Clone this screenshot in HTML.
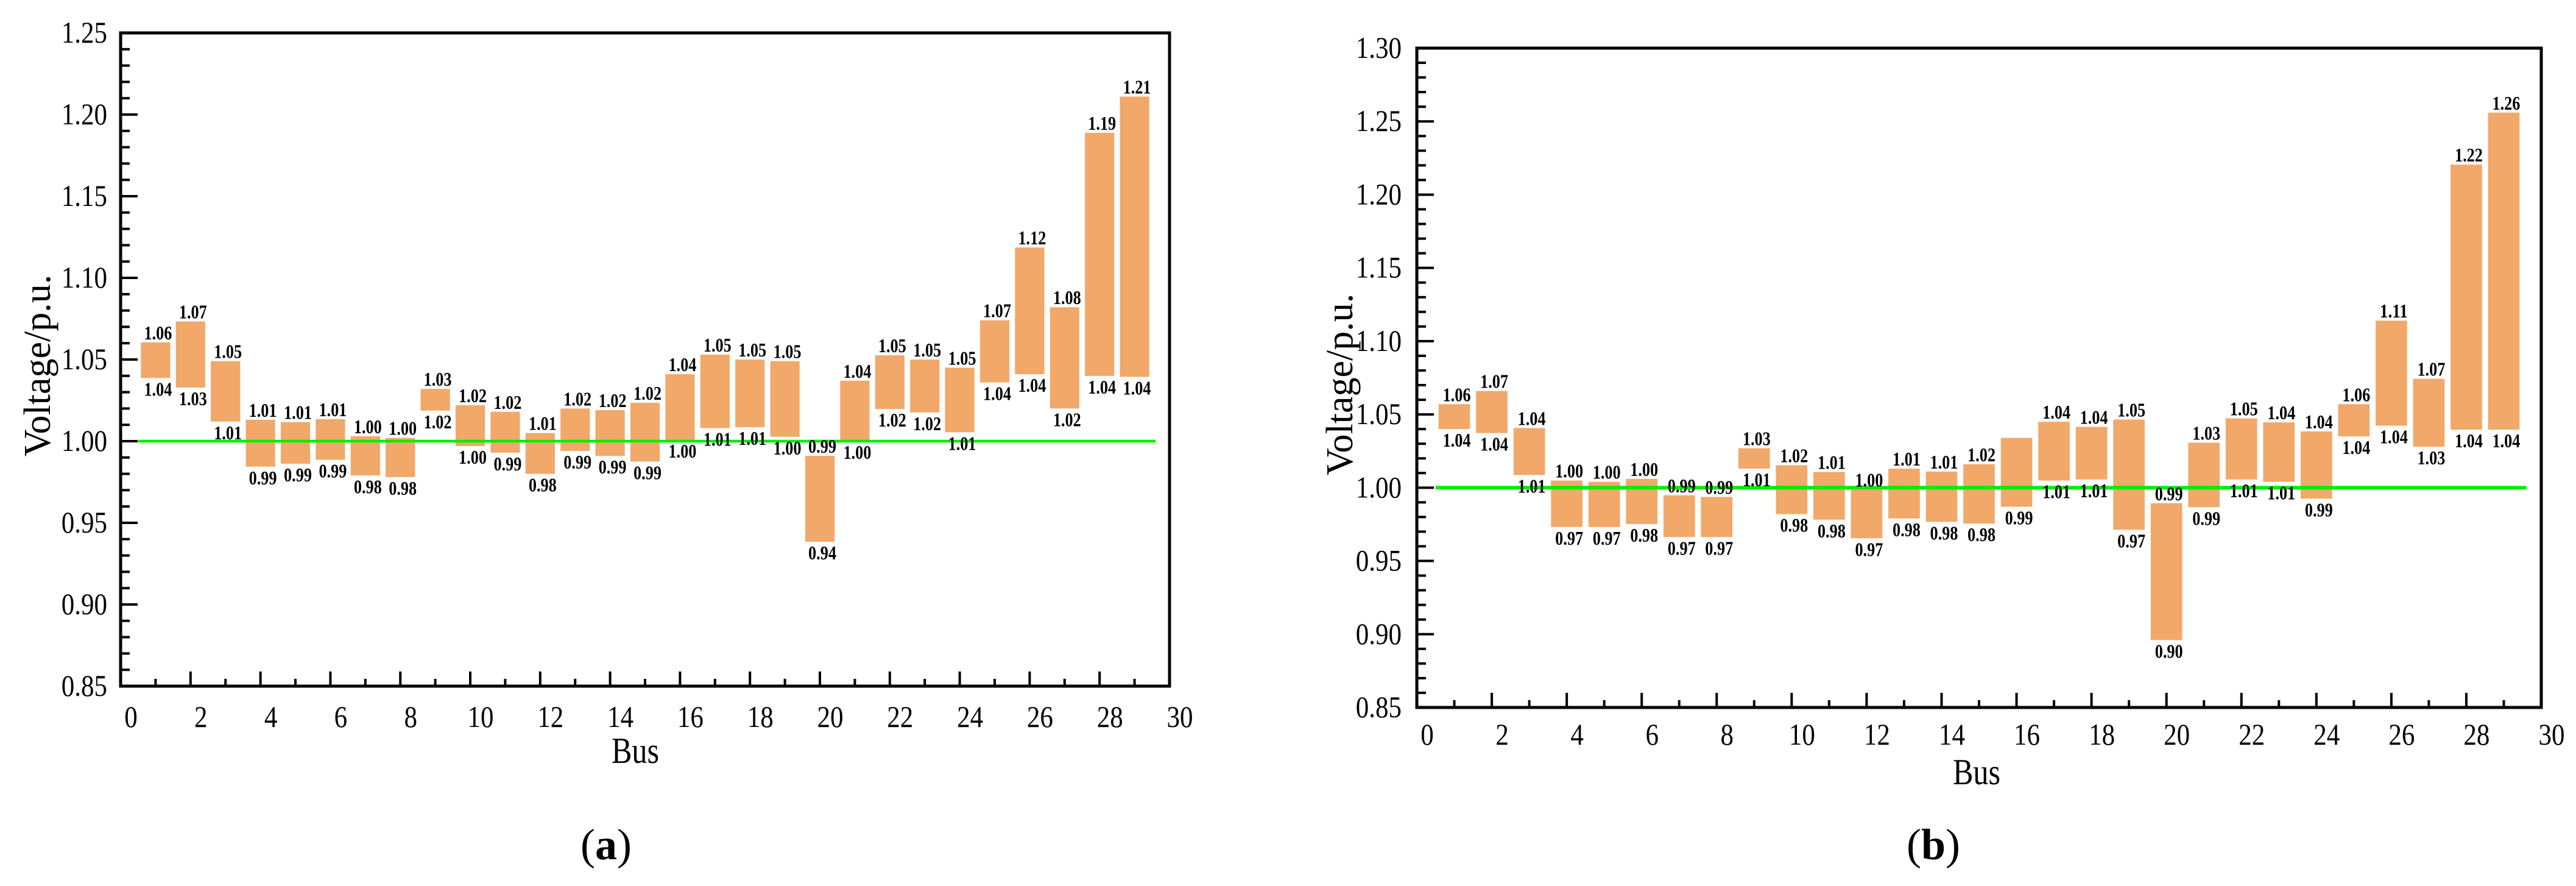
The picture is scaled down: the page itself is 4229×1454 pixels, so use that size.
<!DOCTYPE html>
<html>
<head>
<meta charset="utf-8">
<style>
html,body{margin:0;padding:0;background:#fff;}
svg{display:block;}
text{font-family:"Liberation Serif",serif;fill:#000;}
</style>
</head>
<body>
<svg id="fig" width="4229" height="1454" viewBox="0 0 4229 1454" xmlns="http://www.w3.org/2000/svg"></svg>
<script>
// ---- data: chart (a) ----
const busesA = [1,2,3,4,5,6,7,8,9,10,11,12,13,14,15,16,17,18,19,20,21,22,23,24,25,26,27,28,29];
const upperA = [1.0605,1.0733,1.049,1.0131,1.0117,1.0135,1.003,1.002,1.032,1.022,1.018,1.005,1.020,1.019,1.0235,1.041,1.053,1.050,1.049,0.991,1.037,1.0526,1.050,1.045,1.074,1.1186,1.082,1.1888,1.211];
const lowerA = [1.0387,1.0328,1.012,0.9844,0.9862,0.9886,0.979,0.978,1.0187,0.997,0.993,0.980,0.994,0.991,0.9875,1.0007,1.008,1.0086,1.0027,0.9384,1.000,1.0197,1.0176,1.0055,1.036,1.041,1.020,1.040,1.0394];
const upperLabelsA = ["1.06","1.07","1.05","1.01","1.01","1.01","1.00","1.00","1.03","1.02","1.02","1.01","1.02","1.02","1.02","1.04","1.05","1.05","1.05","0.99","1.04","1.05","1.05","1.05","1.07","1.12","1.08","1.19","1.21"];
const lowerLabelsA = ["1.04","1.03","1.01","0.99","0.99","0.99","0.98","0.98","1.02","1.00","0.99","0.98","0.99","0.99","0.99","1.00","1.01","1.01","1.00","0.94","1.00","1.02","1.02","1.01","1.04","1.04","1.02","1.04","1.04"];
const yTicksA = [0.85,0.90,0.95,1.00,1.05,1.10,1.15,1.20,1.25];
// ---- data: chart (b) ----
const busesB = [1,2,3,4,5,6,7,8,9,10,11,12,13,14,15,16,17,18,19,20,21,22,23,24,25,26,27,28,29];
const upperB = [1.057,1.066,1.0407,1.0049,1.004,1.006,0.9948,0.9937,1.0269,1.0153,1.0107,0.9987,1.013,1.011,1.016,1.034,1.045,1.0415,1.0465,0.9894,1.0307,1.0473,1.0446,1.0384,1.057,1.114,1.0743,1.2205,1.256];
const lowerB = [1.040,1.0373,1.0087,0.9732,0.9732,0.9752,0.9663,0.9663,1.013,0.982,0.9782,0.9655,0.979,0.9767,0.9755,0.987,1.0049,1.0056,0.9713,0.896,0.9867,1.0056,1.004,0.9925,1.035,1.0423,1.028,1.0396,1.0396];
const upperLabelsB = ["1.06","1.07","1.04","1.00","1.00","1.00","0.99","0.99","1.03","1.02","1.01","1.00","1.01","1.01","1.02","","1.04","1.04","1.05","0.99","1.03","1.05","1.04","1.04","1.06","1.11","1.07","1.22","1.26"];
const lowerLabelsB = ["1.04","1.04","1.01","0.97","0.97","0.98","0.97","0.97","1.01","0.98","0.98","0.97","0.98","0.98","0.98","0.99","1.01","1.01","0.97","0.90","0.99","1.01","1.01","0.99","1.04","1.04","1.03","1.04","1.04"];
const yTicksB = [0.85,0.90,0.95,1.00,1.05,1.10,1.15,1.20,1.25,1.30];
const xTicks = [0,2,4,6,8,10,12,14,16,18,20,22,24,26,28,30];
const reference = 1.0;

const NS = "http://www.w3.org/2000/svg";
const svg = document.getElementById('fig');
function mk(tag, attrs, parent){
  const e = document.createElementNS(NS, tag);
  for (const k in attrs) e.setAttribute(k, attrs[k]);
  (parent||svg).appendChild(e);
  return e;
}
function numW(s, fs){ let w=0; for(const c of s){ w += (c==='.')?0.25:0.5; } return w*fs; }

function drawChart(id, L, R, T, B, yMin, yMax, yTicks, buses, upper, lower, upLab, loLab, opts){
  const g = mk('g', {});
  
  
  const xs = v => L + (v - 0) / 30 * (R - L);
  const ys = v => B - (v - yMin) / (yMax - yMin) * (B - T);
  const unit = (R - L) / 30;
  for (let i = 0; i < buses.length; i++) {
    const cx = xs(buses[i]);
    const bw = unit * 0.84;
    const y1 = ys(upper[i]), y2 = ys(lower[i]);
    const r = mk('rect', {x: cx - bw/2, y: y1, width: bw, height: Math.max(1, y2 - y1), fill: '#f2a869'}, g);
    
    
  }
  const ref = mk('line', {x1: xs(0.5), x2: xs(29.6), y1: ys(reference), y2: ys(reference), stroke: '#00ee00', 'stroke-width': opts.refW}, g);
  
  
  const fs = 32;
  for (let i = 0; i < buses.length; i++) {
    const cx = xs(buses[i]) + 4;
    if (upLab[i]) {
      const t = mk('text', {x: cx, y: ys(upper[i]) - 5, 'font-size': fs, 'font-weight': 'bold', 'text-anchor': 'middle', textLength: numW(upLab[i], fs)*0.82, lengthAdjust: 'spacingAndGlyphs'}, g);
      t.textContent = upLab[i];
      
      
    }
    const t2 = mk('text', {x: cx, y: ys(lower[i]) + 29, 'font-size': fs, 'font-weight': 'bold', 'text-anchor': 'middle', textLength: numW(loLab[i], fs)*0.82, lengthAdjust: 'spacingAndGlyphs'}, g);
    t2.textContent = loLab[i];
    
    
  }
  const fr = mk('rect', {x: L, y: T, width: R - L, height: B - T, fill: 'none', stroke: '#000', 'stroke-width': 5}, g);
  
  
  const nMinor = Math.round((yMax - yMin) / 0.01);
  for (let k = 0; k <= nMinor; k++) {
    const v = yMin + k * 0.01;
    const major = (k % 5 === 0);
    const y = ys(v);
    const tk = mk('line', {x1: L, x2: L + (major ? 28 : 15), y1: y, y2: y, stroke: '#000', 'stroke-width': 4}, g);
    
    
  }
  const tfs = 50;
  yTicks.forEach(v => {
    const s = v.toFixed(2);
    const t = mk('text', {x: opts.yLabRight, y: ys(v) + 16, 'font-size': tfs, 'text-anchor': 'end', textLength: numW(s, tfs)*0.86, lengthAdjust: 'spacingAndGlyphs'}, g);
    t.textContent = s;
    
    
  });
  for (let v = 1; v < 30; v++) {
    const major = (v % 2 === 0);
    const x = xs(v);
    const tk = mk('line', {x1: x, x2: x, y1: B, y2: B - (major ? 24 : 12), stroke: '#000', 'stroke-width': 4}, g);
    
    
  }
  xTicks.forEach(v => {
    const s = String(v);
    const t = mk('text', {x: xs(v) + 17, y: opts.xLabBase, 'font-size': tfs, 'text-anchor': 'middle', textLength: numW(s, tfs)*0.86, lengthAdjust: 'spacingAndGlyphs'}, g);
    t.textContent = s;
    
    
  });
  const yt = mk('text', {x: 0, y: 0, 'font-size': 62, 'text-anchor': 'middle', transform: 'translate(' + opts.yTitleX + ',' + opts.yTitleY + ') rotate(-90)'}, g);
  yt.textContent = 'Voltage/p.u.';
  
  
  const xt = mk('text', {x: opts.xTitleX, y: opts.xTitleY, 'font-size': 60, 'text-anchor': 'middle', textLength: 78, lengthAdjust: 'spacingAndGlyphs'}, g);
  xt.textContent = 'Bus';
  
  
  const cap = mk('text', {x: opts.capX, y: 1410, 'font-size': 72, 'text-anchor': 'middle'}, g);
  cap.textContent = '(';
  const b = mk('tspan', {'font-weight': 'bold'}, cap);
  b.textContent = id;
  const c2 = mk('tspan', {}, cap);
  c2.textContent = ')';
  
  
}

drawChart('a', 198, 1920, 54, 1126, 0.85, 1.25, yTicksA, busesA, upperA, lowerA, upperLabelsA, lowerLabelsA,
  {refW: 4.5, yLabRight: 176, xLabBase: 1193, yTitleX: 82, yTitleY: 600, xTitleX: 1043, xTitleY: 1252, capX: 995});
drawChart('b', 2326, 4172, 79, 1161, 0.85, 1.30, yTicksB, busesB, upperB, lowerB, upperLabelsB, lowerLabelsB,
  {refW: 6, yLabRight: 2301, xLabBase: 1222, yTitleX: 2220, yTitleY: 631, xTitleX: 3245, xTitleY: 1287, capX: 3174});
</script>
</body>
</html>
